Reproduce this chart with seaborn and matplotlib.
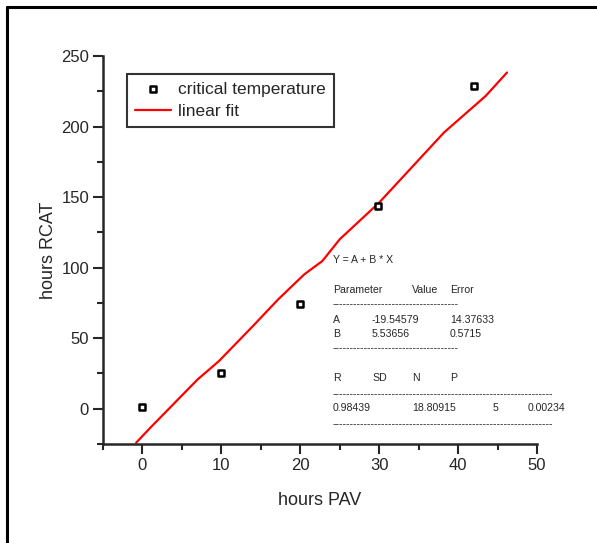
import matplotlib
matplotlib.use("Agg")
import matplotlib.pyplot as plt
from matplotlib.lines import Line2D
from matplotlib.ticker import MultipleLocator
import seaborn as sns
import pandas as pd

# measured points
hours_pav = [0, 9.9, 20, 29.8, 42]
hours_rcat = [1, 25, 74, 144, 229]

# fitted line as drawn in the picture
fit_x = [-0.8, 1.2, 7.0, 9.7, 14.0, 17.2, 20.5, 22.8, 25.0, 30.0, 38.2, 43.5, 46.2]
fit_y = [-24.1, -12.3, 20.8, 33.8, 58.6, 77.5, 95.2, 104.7, 120.1, 146.1, 195.7, 221.7, 238.3]

W, H = 597, 543

def fx(px):
    return px / W

def fy(py):
    return 1 - py / H

sns.set_style("ticks")
plt.rcParams['font.family'] = ['Liberation Sans', 'DejaVu Sans']

fig = plt.figure(figsize=(5.97, 5.43), dpi=100)
ax = fig.add_axes([fx(103), fy(444), fx(537) - fx(103), fy(56) - fy(444)])

pts = pd.DataFrame({"x": hours_pav, "y": hours_rcat})
fit = pd.DataFrame({"x": fit_x, "y": fit_y})

sns.lineplot(data=fit, x="x", y="y", sort=False, color="red", linewidth=1.6,
             label="linear fit", ax=ax, zorder=2)
sns.scatterplot(data=pts, x="x", y="y", marker="s", s=22, facecolor="white",
                edgecolor="black", linewidth=1.8, label="critical temperature",
                ax=ax, zorder=3)

ax.set_xlim(-5, 50)
ax.set_ylim(-25, 250)
ax.xaxis.set_major_locator(MultipleLocator(10))
ax.xaxis.set_minor_locator(MultipleLocator(5))
ax.yaxis.set_major_locator(MultipleLocator(50))
ax.yaxis.set_minor_locator(MultipleLocator(25))
ax.tick_params(which="major", length=7, width=1.5, labelsize=12, pad=3, direction="out")
ax.tick_params(which="minor", length=4, width=1.5, direction="out")
for side in ["top", "right"]:
    ax.spines[side].set_visible(False)
for side in ["left", "bottom"]:
    ax.spines[side].set_linewidth(1.8)

ax.set_xlabel("hours PAV", fontsize=13, labelpad=14)
ax.set_ylabel("hours RCAT", fontsize=13, labelpad=3)

handles, labels = ax.get_legend_handles_labels()
order = [labels.index("critical temperature"), labels.index("linear fit")]
leg = ax.legend([handles[i] for i in order], [labels[i] for i in order],
                loc="upper left", bbox_to_anchor=(fx(127), fy(74)),
                bbox_transform=fig.transFigure, fontsize=12.5, frameon=True,
                fancybox=False, shadow=False, borderaxespad=0, borderpad=0.45,
                handlelength=2.1, handletextpad=0.41, labelspacing=0.42)
leg.get_frame().set_edgecolor("black")
leg.get_frame().set_linewidth(1.5)

# fit report text
fs = 7.6
short_dash = "-" * 36
long_dash = "-" * 63
fig.text(fx(333), fy(260), "Y = A + B * X", fontsize=fs, va="center")
fig.text(fx(333), fy(290), "Parameter", fontsize=fs, va="center")
fig.text(fx(412), fy(290), "Value", fontsize=fs, va="center")
fig.text(fx(450), fy(290), "Error", fontsize=fs, va="center")
fig.text(fx(333), fy(304), short_dash, fontsize=fs, va="center")
fig.text(fx(333), fy(320), "A", fontsize=fs, va="center")
fig.text(fx(372), fy(320), "-19.54579", fontsize=fs, va="center")
fig.text(fx(450), fy(320), "14.37633", fontsize=fs, va="center")
fig.text(fx(333), fy(334), "B", fontsize=fs, va="center")
fig.text(fx(372), fy(334), "5.53656", fontsize=fs, va="center")
fig.text(fx(450), fy(334), "0.5715", fontsize=fs, va="center")
fig.text(fx(333), fy(348), short_dash, fontsize=fs, va="center")
fig.text(fx(333), fy(378), "R", fontsize=fs, va="center")
fig.text(fx(372), fy(378), "SD", fontsize=fs, va="center")
fig.text(fx(412), fy(378), "N", fontsize=fs, va="center")
fig.text(fx(450), fy(378), "P", fontsize=fs, va="center")
fig.text(fx(333), fy(394), long_dash, fontsize=fs, va="center")
fig.text(fx(333), fy(408), "0.98439", fontsize=fs, va="center")
fig.text(fx(412), fy(408), "18.80915", fontsize=fs, va="center")
fig.text(fx(493), fy(408), "5", fontsize=fs, va="center")
fig.text(fx(528), fy(408), "0.00234", fontsize=fs, va="center")
fig.text(fx(333), fy(424), long_dash, fontsize=fs, va="center")

# outer frame (top and left edges)
fig.add_artist(Line2D([fx(7), 1], [fy(7), fy(7)], color="black", linewidth=2.2))
fig.add_artist(Line2D([fx(7), fx(7)], [fy(7), 0], color="black", linewidth=2.2))

fig.savefig("out.png", dpi=100)
